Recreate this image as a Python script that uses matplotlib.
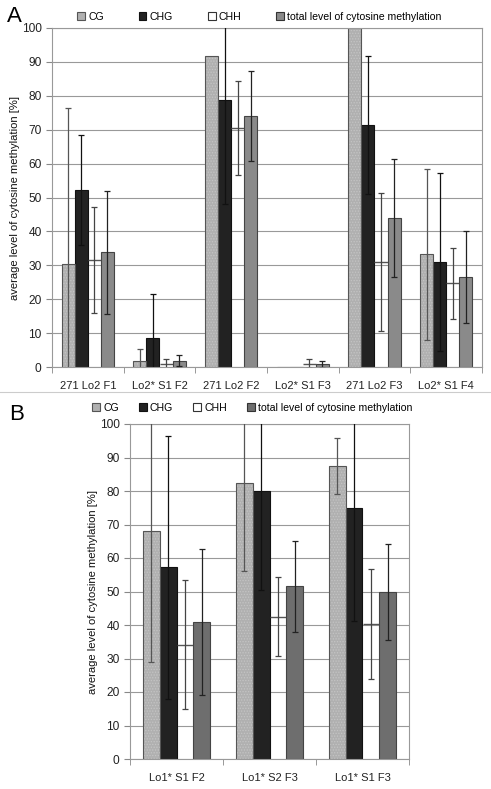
import matplotlib.pyplot as plt
import numpy as np
from matplotlib.patches import Patch

plt.rcParams['font.family'] = ['Liberation Sans', 'DejaVu Sans']

# ---- panel A data ----
groups_a = ["271 Lo2 F1", "Lo2* S1 F2", "271 Lo2 F2", "Lo2* S1 F3", "271 Lo2 F3", "Lo2* S1 F4"]
cg_a = [30.5, 1.8, 91.7, 0.0, 100.0, 33.3]
cg_err_a = [46.0, 3.6, np.nan, np.nan, np.nan, 25.2]
chg_a = [52.3, 8.7, 78.7, 0.0, 71.3, 31.0]
chg_err_a = [16.2, 12.7, 30.5, np.nan, 20.4, 26.2]
chh_a = [31.5, 0.9, 70.5, 1.0, 31.0, 24.7]
chh_err_a = [15.7, 1.4, 14.0, 1.3, 20.3, 10.4]
tot_a = [33.8, 1.8, 74.1, 0.8, 44.0, 26.5]
tot_err_a = [18.2, 1.6, 13.3, 1.0, 17.4, 13.5]

# ---- panel B data ----
groups_b = ["Lo1* S1 F2", "Lo1* S2 F3", "Lo1* S1 F3"]
cg_b = [68.2, 82.4, 87.4]
cg_err_b = [39.3, 26.4, 8.3]
chg_b = [57.2, 80.0, 74.9]
chg_err_b = [39.2, 29.6, 33.7]
chh_b = [34.1, 42.5, 40.3]
chh_err_b = [19.3, 11.8, 16.3]
tot_b = [40.9, 51.5, 49.8]
tot_err_b = [21.8, 13.5, 14.3]

legend_labels = ["CG", "CHG", "CHH", "total level of cytosine methylation"]
yticks = np.arange(0, 101, 10)

W, H = 491, 789
fig = plt.figure(figsize=(W / 100, H / 100), dpi=100)
plt.rcParams['hatch.linewidth'] = 0.6


def px_axes(x0, y0, x1, y1):
    return fig.add_axes([x0 / W, 1 - y1 / H, (x1 - x0) / W, (y1 - y0) / H])


def draw_panel(ax, groups, series, errs, tot_color):
    n = len(groups)
    x = np.arange(n) + 0.5
    bw = 0.182
    offs = (np.arange(4) - 1.5) * bw
    cg, chg, chh, tot = series

    ax.set_axisbelow(True)
    ax.yaxis.grid(True, color='#999999', linewidth=0.8)
    # CG: light grey with fine dotted texture
    ax.bar(x + offs[0], cg, bw, color='#b0b0b0', linewidth=0, zorder=2)
    ax.bar(x + offs[0], cg, bw, fill=False, hatch='......', edgecolor='#c4c4c4', linewidth=0, zorder=2.1)
    ax.bar(x + offs[0], cg, bw, fill=False, edgecolor='#555555', linewidth=0.8, zorder=2.2)
    ax.bar(x + offs[1], chg, bw, color='#222222', edgecolor='#111111', linewidth=0.8, zorder=2)
    # CHH: white, only top edge visible
    ax.hlines(chh, x + offs[2] - bw / 2, x + offs[2] + bw / 2, color='#555555', linewidth=1.0, zorder=2)
    ax.bar(x + offs[3], tot, bw, color=tot_color, edgecolor='#444444', linewidth=0.8, zorder=2)

    ecolors = ['#555555', '#111111', '#444444', '#222222']
    for k, (vals, err) in enumerate(zip(series, errs)):
        vals = np.asarray(vals, float)
        err = np.asarray(err, float)
        m = ~np.isnan(err)
        ax.errorbar((x + offs[k])[m], vals[m], yerr=err[m], fmt='none', ecolor=ecolors[k],
                    elinewidth=0.9, capsize=2.5, capthick=0.9, zorder=3)

    ax.set_xlim(0, n)
    ax.set_ylim(0, 100)
    ax.set_yticks(yticks)
    ax.set_xticks(x)
    ax.set_xticklabels(groups, fontsize=8.0, color='#222222')
    ax.set_xticks(np.arange(n + 1), minor=True)
    ax.tick_params(axis='x', which='major', length=0, pad=10)
    ax.tick_params(axis='x', which='minor', length=4, color='#888888')
    ax.tick_params(axis='y', length=4, color='#888888', labelsize=8.6, labelcolor='#222222')
    for s in ax.spines.values():
        s.set_color('#999999')
        s.set_linewidth(0.8)
    ax.set_ylabel("average level of cytosine methylation [%]", fontsize=8.1, color='#111111')


def add_legend(ax, tot_color, spacing, anchor):
    handles = [
        Patch(facecolor='#b0b0b0', edgecolor='#555555', linewidth=0.8),
        Patch(facecolor='#222222', edgecolor='#111111', linewidth=0.8),
        Patch(facecolor='white', edgecolor='#333333', linewidth=0.8),
        Patch(facecolor=tot_color, edgecolor='#333333', linewidth=0.8),
    ]
    ax.legend(handles, legend_labels, ncol=4, frameon=False, fontsize=7.6,
              handlelength=0.75, handleheight=0.75, handletextpad=0.3,
              columnspacing=spacing, loc='lower left', bbox_to_anchor=anchor,
              bbox_transform=fig.transFigure, borderaxespad=0, borderpad=0)


# panel A
ax_a = px_axes(52, 28, 482, 367)
draw_panel(ax_a, groups_a, [cg_a, chg_a, chh_a, tot_a],
           [cg_err_a, chg_err_a, chh_err_a, tot_err_a], '#8a8a8a')
ax_a.yaxis.set_label_coords(-0.074, 0.5)
add_legend(ax_a, '#8a8a8a', 3.3, (77 / W, 1 - 22 / H))
fig.text(7 / W, 1 - 16 / H, "A", fontsize=16, va='center', ha='left')

# divider line between panels
fig.add_artist(plt.Line2D([0, 1], [1 - 392 / H, 1 - 392 / H], color='#cccccc', linewidth=0.8))

# panel B
ax_b = px_axes(130, 424, 409, 759)
draw_panel(ax_b, groups_b, [cg_b, chg_b, chh_b, tot_b],
           [cg_err_b, chg_err_b, chh_err_b, tot_err_b], '#6e6e6e')
ax_b.yaxis.set_label_coords(-0.116, 0.5)
add_legend(ax_b, '#6e6e6e', 1.9, (92 / W, 1 - 413 / H))
fig.text(9 / W, 1 - 415 / H, "B", fontsize=16, va='center', ha='left')

fig.savefig("out.png", dpi=100)
